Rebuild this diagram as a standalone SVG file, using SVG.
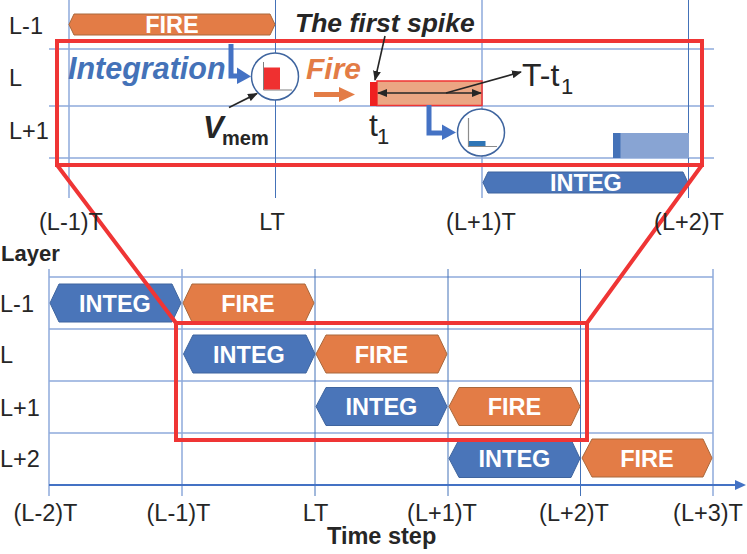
<svg xmlns="http://www.w3.org/2000/svg" width="747" height="554" viewBox="0 0 747 554">
<defs>
<style>
text{font-family:"Liberation Sans",Arial,sans-serif;fill:#262626}
.grid{stroke:#8faadc;stroke-width:1.5;fill:none}
.gridd{stroke:#4472b8;stroke-width:1;fill:none}
.integ{fill:#4a75b9;stroke:#3f659f;stroke-width:1}
.fire{fill:#e37c46;stroke:#a9683c;stroke-width:1}
.hl{font-size:23.500px;font-weight:bold;fill:#fff;text-anchor:middle}
.lab{font-size:23.500px}
.tick{font-size:23.500px;text-anchor:middle}
.red{stroke:#ef3535;stroke-width:4;fill:none}
.flow{stroke:#4472c4;stroke-width:5;fill:none}
.thin{stroke:#262626;stroke-width:1.6;fill:none}
</style>
<marker id="head" markerWidth="10" markerHeight="8" refX="9" refY="4" orient="auto-start-reverse" markerUnits="userSpaceOnUse"><path d="M0 0L10 4L0 8Z" fill="#262626"/></marker>
<marker id="axis" markerWidth="11" markerHeight="10" refX="1" refY="5" orient="auto" markerUnits="userSpaceOnUse"><path d="M0 0L11 5L0 10Z" fill="#4472c4"/></marker>
</defs>

<!-- upper timing grid -->
<g id="detail-grid">
<path class="grid" d="M49 49H714M49 106H714M49 158H714"/>
<path class="grid" d="M69 0V198M482 0V198"/>
<path class="gridd" d="M275.500 0V198M688.500 0V198"/>
</g>

<!-- lower timing grid -->
<g id="overview-grid">
<path class="grid" d="M49 277H713M49 329H713M49 381H713M49 433H713"/>
<path class="grid" d="M49 269V496M182 269V496M713 269V496"/>
<path class="gridd" d="M315 269V496M448 269V496M580.500 269V496"/>
<path d="M49 485H736" stroke="#4472c4" stroke-width="2" fill="none" marker-end="url(#axis)"/>
</g>

<g id="detail-fire"><path class="fire" d="M69 24.500L74 14H270L275 24.500L270 35H74Z"/><text class="hl" x="172" y="33">FIRE</text></g>
<g id="detail-integ"><path class="integ" d="M483 182.500L488 172H683L688 182.500L683 193H488Z"/><text class="hl" x="586" y="191">INTEG</text></g>

<g id="row1-integ"><path class="integ" d="M50 303L59 284H172L181 303L172 322H59Z"/><text class="hl" x="115" y="311.500">INTEG</text></g>
<g id="row1-fire"><path class="fire" d="M183 303L192 284H305L314 303L305 322H192Z"/><text class="hl" x="248" y="311.500">FIRE</text></g>
<g id="row2-integ"><path class="integ" d="M183.500 354L193 335H306L315 354L306 373H193Z"/><text class="hl" x="249" y="362.500">INTEG</text></g>
<g id="row2-fire"><path class="fire" d="M316 354L326 335H438L447 354L438 373H326Z"/><text class="hl" x="381.500" y="362.500">FIRE</text></g>
<g id="row3-integ"><path class="integ" d="M316 406.500L326 387.500H438L447 406.500L438 425.500H326Z"/><text class="hl" x="381.500" y="415">INTEG</text></g>
<g id="row3-fire"><path class="fire" d="M449 406.500L459 387.500H571L580 406.500L571 425.500H459Z"/><text class="hl" x="514.500" y="415">FIRE</text></g>
<g id="row4-integ"><path class="integ" d="M449 458.500L459 439.500H571L580 458.500L571 477.500H459Z"/><text class="hl" x="514.500" y="467">INTEG</text></g>
<g id="row4-fire"><path class="fire" d="M582 458L592 439H703L712 458L703 477H592Z"/><text class="hl" x="647" y="466.500">FIRE</text></g>

<!-- membrane potential and spike window -->
<g id="spike-window">
<rect x="377" y="81" width="105" height="24.500" fill="#eba683" stroke="#ef3535" stroke-width="1.500"/>
<rect x="370" y="82" width="7" height="24" fill="#ef2020"/>
</g>
<g id="late-integ">
<rect x="613" y="133" width="76" height="25" fill="#88a4d3"/>
<rect x="613" y="133" width="7.500" height="25" fill="#4472b8"/>
</g>
<g id="vmem-high">
<circle cx="275" cy="76.500" r="23.500" fill="#fff" stroke="#3f659f" stroke-width="1.500"/>
<path d="M263.500 62V90H292" stroke="#7f7f7f" stroke-width="1" fill="none"/>
<rect x="264" y="67.500" width="16" height="22" fill="#ef3030"/>
</g>
<g id="vmem-low">
<circle cx="481" cy="132.500" r="23.500" fill="#fff" stroke="#3f659f" stroke-width="1.500"/>
<path d="M468.500 118V146.500H497" stroke="#8c8c8c" stroke-width="1.200" fill="none"/>
<rect x="469" y="141" width="16.500" height="5" fill="#2e75b6"/>
</g>

<!-- highlight frames and their projection lines -->
<g id="frames">
<path class="red" d="M57 165V41H702V165Z"/>
<path class="red" d="M176 323H587V440H176Z"/>
<path class="red" d="M57 165L176 323M702 165L587 323" stroke-linejoin="round"/>
</g>

<g id="connectors">
<path class="flow" d="M231 44V76H240"/><path d="M237 67.500L251 76.500L237 84Z" fill="#4472c4"/>
<path class="flow" d="M429 105V133H443"/><path d="M442 124.500L456 132.500L442 140Z" fill="#4472c4"/>
<path d="M314 94.500H342" stroke="#e37c46" stroke-width="5" fill="none"/><path d="M339 87L355 94.500L339 102Z" fill="#e37c46"/>
<path class="thin" d="M229 107.500L257 93.500" marker-end="url(#head)"/>
<path class="thin" d="M385 36L375 80" marker-end="url(#head)"/>
<path class="thin" d="M378 93H481" marker-start="url(#head)" marker-end="url(#head)"/>
<path class="thin" d="M446 93L521 72" marker-end="url(#head)"/>
</g>

<!-- labels -->
<g id="labels">
<text class="lab" x="9" y="34">L-1</text>
<text class="lab" x="9" y="86">L</text>
<text class="lab" x="9" y="138.500">L+1</text>
<text class="tick" x="71" y="230">(L-1)T</text>
<text class="tick" x="272" y="230">LT</text>
<text class="tick" x="481" y="230">(L+1)T</text>
<text class="tick" x="689" y="230">(L+2)T</text>
<text x="1" y="261" font-size="22" font-weight="bold">Layer</text>
<text class="lab" x="0" y="312">L-1</text>
<text class="lab" x="0" y="363">L</text>
<text class="lab" x="0" y="416">L+1</text>
<text class="lab" x="0" y="467">L+2</text>
<text class="tick" x="45.500" y="521">(L-2)T</text>
<text class="tick" x="178.500" y="521">(L-1)T</text>
<text class="tick" x="315.500" y="521">LT</text>
<text class="tick" x="442" y="521">(L+1)T</text>
<text class="tick" x="574" y="521">(L+2)T</text>
<text class="tick" x="708" y="521">(L+3)T</text>
<text x="327" y="544" font-size="23.500" font-weight="bold">Time step</text>
<text x="68" y="79" font-size="30.500" font-weight="bold" font-style="italic" style="fill:#4472b8">Integration</text>
<text x="306" y="79" font-size="30" font-weight="bold" font-style="italic" style="fill:#e37c46">Fire</text>
<text x="295" y="32" font-size="26.500" font-weight="bold" font-style="italic">The first spike</text>
<text x="203" y="138" font-size="31" font-weight="bold" font-style="italic">V</text>
<text x="222" y="145" font-size="20" font-weight="bold">mem</text>
<text x="369" y="135.500" font-size="32">t</text>
<text x="377" y="144" font-size="22">1</text>
<text x="522" y="86" font-size="32">T-t</text>
<text x="561" y="93.500" font-size="22">1</text>
</g>
</svg>
